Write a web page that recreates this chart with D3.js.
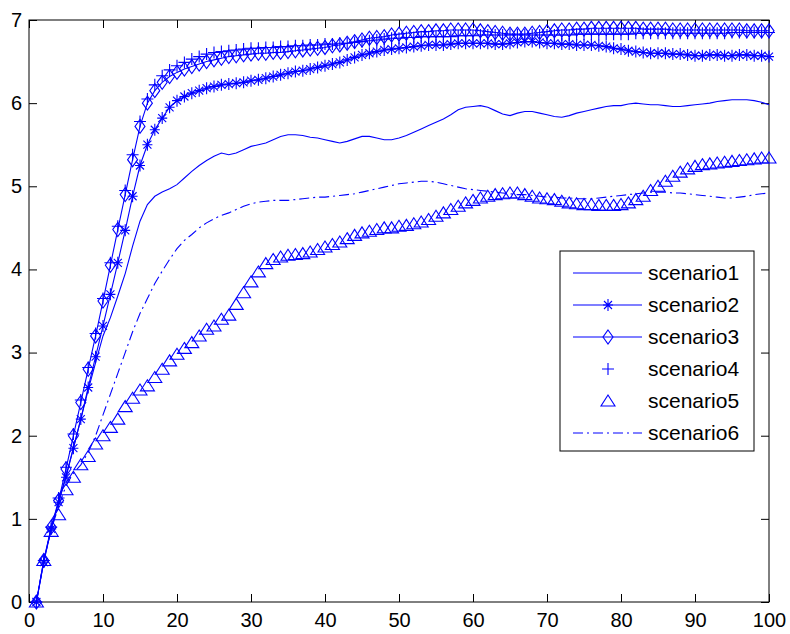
<!DOCTYPE html>
<html lang="en">
<head>
<meta charset="UTF-8">
<title>scenarios</title>
<script src="https://cdn.jsdelivr.net/npm/d3@7"></script>
<style>
    body{ margin:0; background:#fff; }
    text{ font-family:"Liberation Sans", Arial, sans-serif; fill:#000; }
</style>
</head>
<body>
<div id="chart"></div>
<script>
// x steps 1..100
var steps = d3.range(1, 101);

var scenario1 = [0,0.5,0.88,1.2,1.52,1.85,2.2,2.55,2.88,3.2,
    3.42,3.68,3.95,4.28,4.58,4.78,4.88,4.93,4.97,5.02,
    5.1,5.18,5.25,5.31,5.36,5.4,5.38,5.4,5.44,5.48,
    5.5,5.52,5.56,5.6,5.62,5.62,5.61,5.59,5.58,5.56,
    5.54,5.52,5.54,5.57,5.6,5.6,5.58,5.56,5.56,5.58,
    5.61,5.65,5.69,5.73,5.77,5.81,5.86,5.92,5.95,5.96,
    5.97,5.95,5.91,5.87,5.85,5.88,5.9,5.9,5.88,5.86,
    5.84,5.83,5.85,5.88,5.9,5.92,5.94,5.96,5.97,5.97,
    5.99,6.0,5.99,5.98,5.98,5.97,5.96,5.96,5.97,5.98,
    5.99,6.0,6.02,6.03,6.04,6.04,6.04,6.03,6.01,5.98];

var scenario2 = [0,0.48,0.88,1.2,1.5,1.85,2.2,2.58,2.95,3.32,
    3.7,4.08,4.47,4.88,5.25,5.5,5.68,5.82,5.95,6.03,
    6.08,6.12,6.15,6.18,6.2,6.22,6.23,6.24,6.25,6.27,
    6.28,6.3,6.32,6.34,6.36,6.38,6.39,6.41,6.43,6.45,
    6.47,6.49,6.52,6.55,6.58,6.6,6.62,6.64,6.65,6.66,
    6.67,6.68,6.69,6.7,6.7,6.7,6.71,6.72,6.72,6.72,
    6.72,6.72,6.71,6.71,6.72,6.73,6.74,6.74,6.73,6.72,
    6.72,6.71,6.71,6.7,6.7,6.7,6.69,6.68,6.66,6.65,
    6.63,6.62,6.61,6.6,6.6,6.6,6.59,6.59,6.58,6.57,
    6.57,6.58,6.58,6.57,6.57,6.58,6.58,6.57,6.57,6.56];

var scenario3 = [0,0.5,0.9,1.22,1.6,2.0,2.4,2.8,3.2,3.62,
    4.05,4.48,4.9,5.32,5.72,6.0,6.15,6.25,6.32,6.37,
    6.41,6.44,6.47,6.5,6.52,6.54,6.56,6.57,6.58,6.59,
    6.6,6.6,6.61,6.61,6.62,6.63,6.64,6.65,6.66,6.67,
    6.69,6.7,6.72,6.74,6.76,6.78,6.79,6.8,6.82,6.83,
    6.84,6.85,6.86,6.86,6.87,6.87,6.88,6.88,6.88,6.88,
    6.87,6.86,6.85,6.84,6.83,6.83,6.83,6.84,6.85,6.86,
    6.87,6.88,6.88,6.89,6.89,6.9,6.9,6.9,6.9,6.9,
    6.9,6.9,6.89,6.89,6.89,6.89,6.88,6.88,6.88,6.88,
    6.88,6.88,6.88,6.88,6.88,6.88,6.87,6.87,6.87,6.87];

var scenario4 = [0,0.5,0.9,1.25,1.62,2.02,2.43,2.82,3.23,3.65,
    4.08,4.52,4.95,5.38,5.78,6.05,6.22,6.33,6.4,6.45,
    6.49,6.53,6.56,6.59,6.61,6.62,6.63,6.64,6.65,6.66,
    6.66,6.67,6.67,6.68,6.68,6.69,6.69,6.7,6.7,6.71,
    6.71,6.72,6.72,6.73,6.74,6.75,6.76,6.77,6.78,6.78,
    6.79,6.79,6.8,6.8,6.8,6.8,6.8,6.81,6.81,6.81,
    6.82,6.82,6.82,6.82,6.82,6.82,6.82,6.82,6.82,6.82,
    6.82,6.82,6.82,6.83,6.83,6.83,6.83,6.83,6.83,6.83,
    6.83,6.84,6.84,6.84,6.84,6.84,6.84,6.84,6.84,6.84,
    6.84,6.84,6.84,6.84,6.85,6.85,6.85,6.85,6.85,6.85];

var scenario5 = [0,0.5,0.85,1.05,1.35,1.5,1.65,1.75,1.9,2.0,
    2.1,2.2,2.35,2.45,2.55,2.6,2.7,2.8,2.9,2.98,
    3.05,3.12,3.2,3.28,3.32,3.4,3.45,3.58,3.72,3.85,
    3.97,4.07,4.12,4.15,4.17,4.18,4.19,4.21,4.24,4.27,
    4.3,4.33,4.37,4.41,4.44,4.46,4.48,4.5,4.5,4.52,
    4.53,4.55,4.57,4.6,4.64,4.68,4.72,4.76,4.8,4.83,
    4.86,4.88,4.9,4.91,4.92,4.92,4.9,4.88,4.86,4.85,
    4.84,4.82,4.8,4.79,4.78,4.78,4.77,4.77,4.77,4.78,
    4.8,4.84,4.88,4.95,5.0,5.06,5.12,5.17,5.21,5.24,
    5.26,5.27,5.28,5.29,5.3,5.31,5.32,5.33,5.34,5.34];

var scenario6 = [0,0.5,0.87,1.15,1.4,1.55,1.65,1.8,2.0,2.25,
    2.5,2.75,3.0,3.25,3.47,3.65,3.83,3.98,4.12,4.25,
    4.35,4.42,4.5,4.56,4.61,4.65,4.68,4.72,4.76,4.79,
    4.81,4.82,4.83,4.83,4.83,4.84,4.85,4.86,4.87,4.87,
    4.88,4.89,4.9,4.91,4.93,4.95,4.97,4.99,5.01,5.03,
    5.04,5.05,5.06,5.06,5.05,5.03,5.01,4.99,4.97,4.96,
    4.95,4.94,4.93,4.92,4.91,4.9,4.9,4.89,4.88,4.87,
    4.87,4.86,4.86,4.85,4.85,4.85,4.86,4.87,4.88,4.89,
    4.9,4.91,4.92,4.93,4.93,4.93,4.92,4.92,4.91,4.9,
    4.89,4.88,4.87,4.86,4.86,4.87,4.88,4.9,4.91,4.92];

var xTicks = [0,10,20,30,40,50,60,70,80,90,100];
var yTicks = [0,1,2,3,4,5,6,7];
var names = ["scenario1","scenario2","scenario3","scenario4","scenario5","scenario6"];

var blue = '#0000ff';
var width = 790, height = 634;

var svg = d3.select('#chart').append('svg').attr('width', width).attr('height', height);

var x = d3.scaleLinear().domain([0, 100]).range([29, 769]);
var y = d3.scaleLinear().domain([0, 7]).range([602, 20]);
var fmt = d3.format('d');

// axes (ticks point inward, box drawn separately)
function styleAxis(g){
    g.select('.domain').remove();
    g.selectAll('line').attr('stroke', '#000');
    g.selectAll('text').attr('font-size', 20).attr('fill', '#000')
        .attr('font-family', '"Liberation Sans", Arial, sans-serif');
}
svg.append('g').attr('transform', 'translate(0,602)')
    .call(d3.axisBottom(x).tickValues(xTicks).tickFormat(fmt).tickSizeInner(-8).tickSizeOuter(0).tickPadding(11))
    .call(styleAxis);
svg.append('g').attr('transform', 'translate(0,20)')
    .call(d3.axisTop(x).tickValues(xTicks).tickSizeInner(-8).tickSizeOuter(0).tickFormat(''))
    .call(styleAxis);
svg.append('g').attr('transform', 'translate(29,0)')
    .call(d3.axisLeft(y).tickValues(yTicks).tickFormat(fmt).tickSizeInner(-8).tickSizeOuter(0).tickPadding(7))
    .call(styleAxis);
svg.append('g').attr('transform', 'translate(769,0)')
    .call(d3.axisRight(y).tickValues(yTicks).tickSizeInner(-8).tickSizeOuter(0).tickFormat(''))
    .call(styleAxis);

svg.append('rect').attr('x', 29).attr('y', 20).attr('width', 740).attr('height', 582)
    .attr('fill', 'none').attr('stroke', '#000').attr('stroke-width', 1);

// marker shapes
var markers = {
    star: 'M-5,0H5M0,-6V6M-4,-4L4,4M-4,4L4,-4',
    diamond: 'M0,-7L5,0L0,7L-5,0Z',
    plus: 'M-6,0H6M0,-6V6',
    triangle: 'M0,-6L7,5H-7Z'
};

var series = [
    {name: names[0], values: scenario1, line: true, dash: null, marker: null},
    {name: names[1], values: scenario2, line: true, dash: null, marker: 'star'},
    {name: names[2], values: scenario3, line: true, dash: null, marker: 'diamond'},
    {name: names[3], values: scenario4, line: false, dash: null, marker: 'plus'},
    {name: names[4], values: scenario5, line: false, dash: null, marker: 'triangle'},
    {name: names[5], values: scenario6, line: true, dash: '10,4,2,4', marker: null}
];

var line = d3.line()
    .x(function(d, i){ return x(steps[i]); })
    .y(function(d){ return y(d); });

series.forEach(function(s){
    var g = svg.append('g');
    if(s.line){
        g.append('path').datum(s.values).attr('d', line)
            .attr('fill', 'none').attr('stroke', blue).attr('stroke-width', 1.1)
            .attr('stroke-dasharray', s.dash);
    }
    if(s.marker){
        g.selectAll('path.m').data(s.values).enter().append('path').attr('class', 'm')
            .attr('transform', function(d, i){ return 'translate(' + x(steps[i]) + ',' + y(d) + ')'; })
            .attr('d', markers[s.marker])
            .attr('fill', 'none').attr('stroke', blue).attr('stroke-width', 1.1);
    }
});

// legend
var lg = svg.append('g');
lg.append('rect').attr('x', 560).attr('y', 251).attr('width', 194).attr('height', 200)
    .attr('fill', '#fff').attr('stroke', '#000').attr('stroke-width', 1);
series.forEach(function(s, i){
    var cy = 273 + i * 32;
    if(s.line){
        lg.append('line').attr('x1', 573).attr('x2', 642).attr('y1', cy).attr('y2', cy)
            .attr('stroke', blue).attr('stroke-width', 1.1).attr('stroke-dasharray', s.dash);
    }
    if(s.marker){
        lg.append('path').attr('transform', 'translate(608,' + cy + ')')
            .attr('d', markers[s.marker]).attr('fill', 'none').attr('stroke', blue).attr('stroke-width', 1.1);
    }
    lg.append('text').attr('x', 648).attr('y', cy + 7).attr('font-size', 21).text(s.name);
});
</script>
</body>
</html>
